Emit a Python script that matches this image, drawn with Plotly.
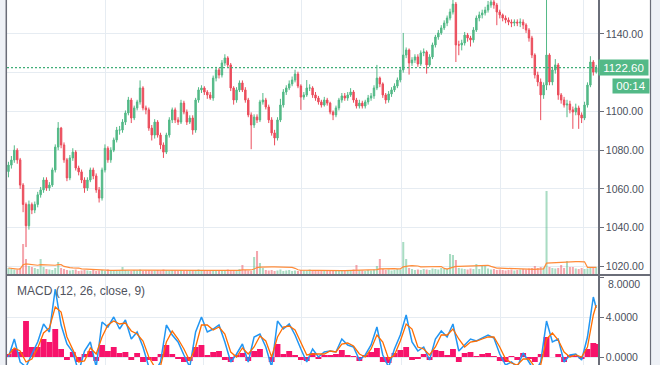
import plotly.graph_objects as go
import pandas as pd

# ---------------- data ----------------
opens = [
    1069.0, 1072.3, 1074.9, 1080.0, 1075.0, 1062.0, 1052.0, 1041.0, 1052.0, 1049.1,
    1052.0, 1057.0, 1059.5, 1064.6, 1060.5, 1062.0, 1069.8, 1081.6, 1091.4, 1082.7,
    1075.0, 1065.7, 1076.0, 1079.0, 1070.8, 1068.8, 1064.6, 1060.5, 1064.6, 1069.8,
    1066.7, 1059.5, 1055.3, 1069.8, 1081.0, 1075.0, 1080.0, 1085.3, 1090.4, 1090.4,
    1094.5, 1099.2, 1105.9, 1096.6, 1101.8, 1104.9, 1112.1, 1101.8, 1100.8, 1091.4,
    1087.8, 1094.5, 1087.8, 1082.7, 1079.0, 1087.8, 1095.6, 1100.8, 1095.6, 1094.5,
    1104.3, 1099.7, 1094.5, 1096.6, 1090.4, 1105.9, 1111.1, 1112.1, 1110.0, 1108.5,
    1106.9, 1117.2, 1121.4, 1118.8, 1125.0, 1127.6, 1124.0, 1112.1, 1105.9, 1111.1,
    1114.7, 1111.1, 1105.9, 1098.2, 1093.0, 1097.1, 1095.6, 1104.9, 1105.9, 1102.3,
    1095.6, 1088.9, 1086.3, 1095.6, 1103.3, 1110.0, 1112.1, 1114.2, 1116.2, 1119.3,
    1113.1, 1107.4, 1108.5, 1112.1, 1112.1, 1108.5, 1106.9, 1104.9, 1103.3, 1105.9,
    1104.3, 1099.7, 1098.2, 1101.8, 1105.9, 1108.0, 1106.9, 1108.5, 1110.0, 1105.9,
    1102.8, 1104.3, 1102.8, 1104.9, 1106.9, 1108.0, 1112.1, 1117.2, 1114.2, 1108.5,
    1105.9, 1109.0, 1111.1, 1113.1, 1116.2, 1121.4, 1129.1, 1131.7, 1125.0, 1126.5,
    1128.1, 1124.5, 1130.2, 1130.7, 1124.0, 1128.1, 1134.3, 1138.4, 1140.5, 1143.1,
    1145.6, 1148.2, 1151.3, 1155.4, 1134.3, 1134.3, 1135.3, 1139.4, 1137.9, 1136.9,
    1142.0, 1148.2, 1149.8, 1150.8, 1152.3, 1154.9, 1156.5, 1154.9, 1151.3, 1149.8,
    1148.2, 1147.2, 1146.1, 1145.6, 1146.1, 1145.6, 1146.1, 1144.6, 1142.0, 1137.9,
    1129.1, 1118.8, 1115.2, 1108.5, 1113.6, 1129.1, 1115.2, 1121.4, 1124.0, 1108.5,
    1105.9, 1103.3, 1103.8, 1100.8, 1099.7, 1101.8, 1098.2, 1096.6, 1103.3, 1113.6,
    1125.5, 1120.3,
]
highs = [
    1074.0, 1077.0, 1082.5, 1081.0, 1076.0, 1063.0, 1053.0, 1054.0, 1053.0, 1053.5,
    1058.5, 1061.0, 1066.0, 1066.0, 1063.5, 1071.0, 1083.0, 1094.5, 1092.0, 1084.0,
    1076.0, 1077.5, 1081.0, 1080.0, 1072.0, 1070.0, 1066.0, 1066.0, 1071.0, 1071.0,
    1068.0, 1061.0, 1071.0, 1083.0, 1082.0, 1081.5, 1086.5, 1092.0, 1092.5, 1096.0,
    1100.5, 1107.5, 1107.0, 1103.0, 1106.0, 1116.0, 1113.0, 1103.0, 1102.0, 1093.0,
    1096.0, 1095.5, 1089.0, 1084.0, 1089.0, 1097.0, 1102.0, 1102.0, 1097.0, 1106.0,
    1105.5, 1101.0, 1098.0, 1098.0, 1107.0, 1112.5, 1113.5, 1113.0, 1111.0, 1110.0,
    1118.5, 1123.0, 1122.5, 1126.5, 1129.5, 1128.5, 1125.0, 1113.0, 1112.5, 1116.0,
    1116.0, 1112.5, 1107.0, 1099.5, 1098.5, 1098.5, 1106.0, 1109.5, 1107.0, 1103.5,
    1097.0, 1090.5, 1097.0, 1106.5, 1111.5, 1113.5, 1116.0, 1118.0, 1121.5, 1120.5,
    1114.0, 1110.0, 1116.2, 1114.0, 1113.0, 1110.0, 1108.0, 1106.0, 1107.5, 1107.0,
    1105.0, 1100.5, 1103.0, 1107.0, 1109.5, 1109.5, 1110.0, 1112.0, 1111.0, 1107.0,
    1106.0, 1105.5, 1106.0, 1108.5, 1109.5, 1113.5, 1124.0, 1118.0, 1115.0, 1109.5,
    1110.5, 1112.5, 1114.5, 1117.5, 1123.0, 1140.5, 1133.0, 1132.5, 1128.0, 1129.5,
    1129.5, 1131.5, 1132.5, 1131.5, 1129.5, 1135.5, 1139.5, 1142.0, 1144.5, 1147.0,
    1149.5, 1153.0, 1160.0, 1156.5, 1136.5, 1137.0, 1141.0, 1140.5, 1139.0, 1143.5,
    1149.5, 1151.5, 1152.5, 1154.0, 1157.0, 1162.0, 1158.0, 1156.0, 1152.5, 1150.5,
    1149.5, 1148.5, 1147.5, 1147.5, 1147.5, 1148.0, 1147.5, 1145.5, 1143.0, 1139.0,
    1130.0, 1120.5, 1117.0, 1115.0, 1162.0, 1130.0, 1123.0, 1127.0, 1125.0, 1109.5,
    1107.5, 1106.0, 1105.5, 1102.5, 1104.0, 1103.0, 1099.5, 1105.0, 1115.0, 1128.5,
    1126.5, 1124.0,
]
lows = [
    1066.0, 1070.5, 1073.5, 1073.0, 1060.0, 1048.0, 1030.0, 1039.0, 1047.0, 1047.5,
    1050.5, 1055.5, 1058.0, 1059.0, 1059.0, 1061.0, 1068.5, 1080.0, 1081.0, 1073.5,
    1064.0, 1064.5, 1074.5, 1069.5, 1067.0, 1063.0, 1058.0, 1059.0, 1063.5, 1065.0,
    1058.0, 1053.0, 1054.0, 1068.5, 1073.5, 1073.5, 1079.0, 1084.0, 1088.0, 1089.0,
    1093.0, 1098.0, 1094.0, 1095.5, 1100.5, 1103.5, 1100.5, 1098.5, 1090.0, 1085.0,
    1086.0, 1086.5, 1080.5, 1076.0, 1078.0, 1086.5, 1094.0, 1094.0, 1093.0, 1093.5,
    1098.5, 1093.0, 1093.5, 1088.0, 1089.0, 1104.5, 1109.5, 1108.5, 1106.5, 1106.0,
    1105.5, 1115.5, 1117.0, 1117.5, 1123.5, 1122.5, 1110.5, 1103.5, 1104.5, 1110.0,
    1110.0, 1104.5, 1097.0, 1080.5, 1091.5, 1094.0, 1094.5, 1103.5, 1101.0, 1094.0,
    1087.5, 1082.5, 1085.0, 1094.5, 1102.0, 1108.5, 1111.0, 1113.0, 1115.0, 1112.0,
    1100.8, 1106.0, 1107.5, 1110.5, 1107.0, 1105.5, 1103.5, 1102.0, 1102.5, 1103.0,
    1098.5, 1095.5, 1097.0, 1100.5, 1104.5, 1105.5, 1105.5, 1107.5, 1104.5, 1101.5,
    1101.5, 1101.5, 1101.5, 1103.5, 1105.5, 1106.5, 1111.0, 1112.5, 1107.0, 1104.0,
    1104.5, 1107.5, 1110.0, 1112.0, 1115.0, 1120.0, 1127.5, 1119.0, 1123.5, 1125.0,
    1123.0, 1123.5, 1128.5, 1119.5, 1123.0, 1127.0, 1133.0, 1137.0, 1139.5, 1142.0,
    1144.0, 1147.0, 1150.0, 1125.5, 1129.0, 1131.5, 1134.0, 1136.0, 1133.5, 1135.5,
    1141.0, 1146.5, 1148.0, 1149.5, 1151.0, 1153.5, 1153.0, 1144.5, 1148.0, 1146.5,
    1145.5, 1144.5, 1143.5, 1144.0, 1144.0, 1143.5, 1142.5, 1140.5, 1136.0, 1127.5,
    1117.0, 1113.0, 1095.5, 1106.5, 1111.0, 1113.5, 1113.5, 1119.5, 1106.0, 1104.0,
    1102.0, 1097.0, 1099.0, 1091.0, 1098.0, 1091.0, 1094.0, 1095.5, 1102.0, 1112.5,
    1118.5, 1119.5,
]
closes = [
    1072.3, 1074.9, 1080.0, 1075.0, 1062.0, 1052.0, 1041.0, 1052.0, 1049.1, 1052.0,
    1057.0, 1059.5, 1064.6, 1060.5, 1062.0, 1069.8, 1081.6, 1091.4, 1082.7, 1075.0,
    1065.7, 1076.0, 1079.0, 1070.8, 1068.8, 1064.6, 1060.5, 1064.6, 1069.8, 1066.7,
    1059.5, 1055.3, 1069.8, 1081.0, 1075.0, 1080.0, 1085.3, 1090.4, 1090.4, 1094.5,
    1099.2, 1105.9, 1096.6, 1101.8, 1104.9, 1112.1, 1101.8, 1100.8, 1091.4, 1087.8,
    1094.5, 1087.8, 1082.7, 1079.0, 1087.8, 1095.6, 1100.8, 1095.6, 1094.5, 1104.3,
    1099.7, 1094.5, 1096.6, 1090.4, 1105.9, 1111.1, 1112.1, 1110.0, 1108.5, 1106.9,
    1117.2, 1121.4, 1118.8, 1125.0, 1127.6, 1124.0, 1112.1, 1105.9, 1111.1, 1114.7,
    1111.1, 1105.9, 1098.2, 1093.0, 1097.1, 1095.6, 1104.9, 1105.9, 1102.3, 1095.6,
    1088.9, 1086.3, 1095.6, 1103.3, 1110.0, 1112.1, 1114.2, 1116.2, 1119.3, 1113.1,
    1107.4, 1108.5, 1112.1, 1112.1, 1108.5, 1106.9, 1104.9, 1103.3, 1105.9, 1104.3,
    1099.7, 1098.2, 1101.8, 1105.9, 1108.0, 1106.9, 1108.5, 1110.0, 1105.9, 1102.8,
    1104.3, 1102.8, 1104.9, 1106.9, 1108.0, 1112.1, 1117.2, 1114.2, 1108.5, 1105.9,
    1109.0, 1111.1, 1113.1, 1116.2, 1121.4, 1129.1, 1131.7, 1125.0, 1126.5, 1128.1,
    1124.5, 1130.2, 1130.7, 1124.0, 1128.1, 1134.3, 1138.4, 1140.5, 1143.1, 1145.6,
    1148.2, 1151.3, 1155.4, 1134.3, 1134.3, 1135.3, 1139.4, 1137.9, 1136.9, 1142.0,
    1148.2, 1149.8, 1150.8, 1152.3, 1154.9, 1156.5, 1154.9, 1151.3, 1149.8, 1148.2,
    1147.2, 1146.1, 1145.6, 1146.1, 1145.6, 1146.1, 1144.6, 1142.0, 1137.9, 1129.1,
    1118.8, 1115.2, 1108.5, 1113.6, 1129.1, 1115.2, 1121.4, 1124.0, 1108.5, 1105.9,
    1103.3, 1103.8, 1100.8, 1099.7, 1101.8, 1098.2, 1096.6, 1103.3, 1113.6, 1125.5,
    1120.3, 1122.6,
]
volumes = [
    60, 50, 45, 40, 60, 300, 150, 80, 70, 60,
    50, 150, 70, 50, 45, 40, 60, 120, 60, 50,
    40, 35, 40, 45, 30, 35, 40, 35, 30, 45,
    30, 35, 40, 30, 45, 35, 40, 30, 35, 70,
    40, 35, 30, 40, 35, 45, 30, 35, 40, 30,
    35, 40, 30, 45, 35, 30, 40, 35, 30, 40,
    30, 35, 40, 30, 35, 45, 30, 35, 40, 30,
    35, 30, 40, 35, 30, 45, 35, 40, 30, 50,
    90, 40, 35, 30, 170, 230, 110, 60, 40, 35,
    40, 30, 35, 45, 30, 35, 40, 30, 35, 30,
    40, 35, 30, 45, 35, 30, 40, 30, 35, 30,
    35, 40, 30, 35, 30, 40, 35, 30, 45, 90,
    40, 35, 30, 40, 35, 45, 80, 150, 50, 40,
    45, 35, 40, 50, 45, 320, 150, 60, 50, 40,
    45, 40, 50, 45, 40, 55, 50, 45, 60, 50,
    55, 200, 190, 140, 60, 55, 50, 45, 55, 50,
    100, 50, 80, 90, 55, 45, 50, 40, 45, 40,
    35, 40, 45, 35, 40, 45, 50, 45, 55, 60,
    80, 60, 70, 65, 830, 70, 60, 55, 60, 90,
    60, 130, 70, 70, 55, 50, 60, 50, 55, 60,
    60, 70,
]
# MACD panel, sampled every second bar
macd_vals = [
    0.0, 1.8, -0.5, -1.0, 0.3, 1.5, 3.3, 2.5, 6.8, 3.2,
    1.3, 0.5, -1.5, 0.6, 1.5, -1.0, 3.5, 3.0, 4.0, 2.8,
    3.7, 1.8, 2.5, 1.0, -1.0, -1.5, -0.5, 3.2, 2.2, 1.5,
    0.2, -1.0, 2.5, 4.0, 2.5, 2.8, 3.2, 1.5, -0.5, 0.3,
    1.3, -0.5, 2.0, 2.3, 1.0, -1.0, 3.6, 2.8, 3.3, 2.2,
    0.8, -0.5, 0.8, 0.0, 0.5, 0.6, 0.5, 1.8, 1.2, 1.0,
    -0.3, 0.2, 1.2, 3.0, 0.2, -1.0, 0.8, 2.2, 4.2, 1.5,
    0.6, 1.0, -0.3, 1.8, 2.6, 2.0, 3.3, 0.6, 1.2, 1.8,
    1.6, 1.9, 2.2, 1.9, 0.3, -0.8, -0.5, -1.0, 0.4, -0.5,
    -1.5, -0.5, 3.6, 1.5, 1.8, -0.5, 0.2, 0.3, -0.3, 2.0,
    6.0, 4.9,
]
signal_vals = [
    0.2, 0.9, 0.6, -0.5, -0.2, 0.9, 2.4, 2.9, 5.0, 4.5,
    2.0, 0.8, -0.5, -0.4, 0.9, 0.3, 2.0, 3.2, 3.6, 3.3,
    3.4, 2.6, 2.3, 1.6, 0.0, -1.0, -0.9, 1.5, 2.6, 1.8,
    0.8, -0.4, 1.0, 3.2, 3.2, 2.7, 3.0, 2.3, 0.5, 0.0,
    0.9, 0.3, 1.0, 2.1, 1.6, 0.0, 2.0, 3.0, 3.1, 2.7,
    1.5, 0.2, 0.3, 0.3, 0.3, 0.6, 0.5, 1.3, 1.4, 1.1,
    0.3, 0.0, 0.8, 2.2, 1.5, -0.2, 0.2, 1.6, 3.3, 2.8,
    1.0, 0.8, 0.2, 1.0, 2.2, 2.2, 2.8, 1.8, 1.0, 1.5,
    1.6, 1.8, 2.0, 2.0, 1.0, -0.2, -0.6, -0.8, -0.2, -0.2,
    -1.0, -0.8, 1.8, 2.4, 1.7, 0.5, 0.0, 0.2, 0.0, 1.0,
    4.2, 5.2,
]
hist_vals = [
    0.3, 0.8, 0.5, 3.6, 1.0, 1.0, 1.8, 1.5, 2.8, 0.8,
    -0.3, 0.5, -0.5, 0.3, 0.6, -0.4, 1.2, 0.6, 1.0, 0.4,
    0.5, -0.3, 0.4, -0.5, -0.3, -0.4, 0.3, 1.2, 0.3, -0.2,
    -0.5, -0.4, 1.0, 1.2, 0.2, 0.5, 0.6, -0.3, -0.5, 0.2,
    0.4, -0.4, 0.6, 0.8, 0.0, -0.5, 1.3, 0.3, 0.6, 0.2,
    -0.3, -0.4, 0.4, -0.2, 0.2, 0.2, 0.3, 0.7, 0.2, 0.1,
    -0.4, 0.2, 0.5, 0.9, -0.5, -0.6, 0.4, 0.7, 1.0, -0.3,
    -0.2, 0.3, -0.3, 0.7, 0.6, 0.2, 0.8, -0.5, 0.4, 0.5,
    0.1, 0.3, 0.4, 0.1, -0.4, -0.5, 0.1, -0.3, 0.4, -0.2,
    -0.5, 0.3, 2.0, 0.0, 0.3, -0.5, 0.2, 0.1, -0.2, 0.8,
    1.4, 1.3,
]
price_ticks = [1020, 1040, 1060, 1080, 1100, 1120, 1140]
macd_ticks = [0, 4, 8]
time_grid = [33.1, 66.6, 100.3, 134.5, 168.3, 196.6]
last_price = 1122.60
countdown = "00:14"
macd_title = "MACD (12, 26, close, 9)"

# ---------------- styling ----------------
UP, DOWN = "#53b987", "#eb4d5c"
GRID = "#e6ecf2"
AXIS = "#6a6d78"
TXT = "#4a4f5c"
FONT = "Liberation Sans"
W, H = 660, 365
PL, PR = 7, 598
PW = PR - PL

n = len(closes)
idx = list(range(n))
macd_x = list(range(0, n - 1, 2)) + [n - 1]
vol_colors = ["rgba(83,185,135,0.5)" if c >= o else "rgba(235,77,92,0.5)"
              for o, c in zip(opens, closes)]
vol_ma = pd.Series(volumes).rolling(14, min_periods=1).mean()

fig = go.Figure()
fig.add_trace(go.Bar(x=idx, y=volumes, marker_color=vol_colors, marker_line_width=0,
                     width=0.7, xaxis="x", yaxis="y3", hoverinfo="skip"))
fig.add_trace(go.Scatter(x=idx, y=vol_ma, mode="lines", xaxis="x", yaxis="y3",
                         line=dict(color="#ff8c3a", width=1.2), hoverinfo="skip"))
fig.add_trace(go.Candlestick(
    x=idx, open=opens, high=highs, low=lows, close=closes, xaxis="x", yaxis="y",
    increasing=dict(line=dict(color=UP, width=1), fillcolor=UP),
    decreasing=dict(line=dict(color=DOWN, width=1), fillcolor=DOWN),
    whiskerwidth=0))
fig.add_trace(go.Bar(x=macd_x, y=hist_vals, marker_color="#f7136b", marker_line_width=0,
                     width=2.0, xaxis="x2", yaxis="y2"))
fig.add_trace(go.Scatter(x=macd_x, y=macd_vals, mode="lines", xaxis="x2", yaxis="y2",
                         line=dict(color="#2196f3", width=1.5)))
fig.add_trace(go.Scatter(x=macd_x, y=signal_vals, mode="lines", xaxis="x2", yaxis="y2",
                         line=dict(color="#ff6d00", width=1.3)))

main_bottom = 1 - 274 / H
macd_top = 1 - 276 / H
xcommon = dict(range=[-0.5, 201.6], tickvals=time_grid, showticklabels=False,
               showgrid=True, gridcolor=GRID, gridwidth=1, zeroline=False,
               ticks="", showline=False, fixedrange=True)
tickfont = dict(family=FONT, size=10.5, color=TXT)

# the 1120 label is hidden behind the last-price box, the 8.0000 one is cut by the separator
price_text = ["" if v == 1120 else f"{v:.2f}" for v in price_ticks]
macd_text = ["" if v == 8 else f"{v:.4f}" for v in macd_ticks]

fig.update_layout(
    width=W, height=H,
    margin=dict(l=PL, r=W - PR, t=0, b=0),
    paper_bgcolor="white", plot_bgcolor="white",
    showlegend=False, barmode="overlay",
    xaxis=dict(domain=[0, 1], anchor="y", rangeslider=dict(visible=False), **xcommon),
    xaxis2=dict(domain=[0, 1], anchor="y2", matches="x", **xcommon),
    yaxis=dict(domain=[main_bottom, 1], range=[1016.1, 1157.5], side="right",
               tickvals=price_ticks, ticktext=price_text,
               showgrid=True, gridcolor=GRID, zeroline=False,
               showline=True, linecolor=AXIS, linewidth=1.5,
               ticks="outside", ticklen=4, tickcolor=AXIS, tickfont=tickfont),
    yaxis3=dict(overlaying="y", range=[0, 2740], visible=False),
    yaxis2=dict(domain=[0, macd_top], range=[-0.8, 8.1], side="right",
                tickvals=macd_ticks, ticktext=macd_text,
                showgrid=True, gridcolor=GRID, zeroline=False,
                showline=True, linecolor=AXIS, linewidth=1.5,
                ticks="outside", ticklen=4, tickcolor=AXIS, tickfont=tickfont),
)

def px_x(p):
    return (p - PL) / PW

def px_y(p):
    return 1 - p / H

shapes = [
    dict(type="line", xref="paper", yref="y", x0=0, x1=1, y0=last_price, y1=last_price,
         line=dict(color="#3fae78", width=1.2, dash="2px,2px")),
    dict(type="rect", xref="paper", yref="paper", x0=px_x(0), x1=px_x(6), y0=0, y1=1,
         fillcolor="#eef1f6", line=dict(width=0), layer="above"),
    dict(type="line", xref="paper", yref="paper", x0=px_x(6.3), x1=px_x(6.3), y0=0, y1=1,
         line=dict(color=AXIS, width=1.5), layer="above"),
    dict(type="rect", xref="paper", yref="paper", x0=px_x(651), x1=px_x(660), y0=0, y1=1,
         fillcolor="#eef1f6", line=dict(width=0), layer="above"),
    dict(type="line", xref="paper", yref="paper", x0=px_x(650.5), x1=px_x(650.5), y0=0, y1=1,
         line=dict(color=AXIS, width=1.2), layer="above"),
    dict(type="line", xref="paper", yref="paper", x0=px_x(6), x1=px_x(651),
         y0=px_y(275), y1=px_y(275), line=dict(color=AXIS, width=1.8), layer="above"),
]
fig.update_layout(shapes=shapes)

fig.add_annotation(xref="paper", yref="y", x=1.0, y=last_price, xanchor="left",
                   yanchor="middle", text=f"{last_price:.2f}", showarrow=False,
                   bgcolor=UP, width=49, height=15, borderpad=0,
                   font=dict(family=FONT, size=11.5, color="white"))
fig.add_annotation(xref="paper", yref="paper", x=px_x(612), y=px_y(86), xanchor="left",
                   yanchor="middle", text=countdown, showarrow=False,
                   bgcolor=UP, width=36, height=14, borderpad=0,
                   font=dict(family=FONT, size=11.5, color="white"))
fig.add_annotation(xref="paper", yref="paper", x=px_x(606), y=px_y(276), xanchor="left",
                   yanchor="top", text=f"{macd_ticks[-1]:.4f}", showarrow=False,
                   font=tickfont)
fig.add_annotation(xref="paper", yref="paper", x=px_x(15), y=px_y(291), xanchor="left",
                   yanchor="middle", text=macd_title, showarrow=False,
                   font=dict(family=FONT, size=12, color="#50535e"))

fig.write_html("out.html")
